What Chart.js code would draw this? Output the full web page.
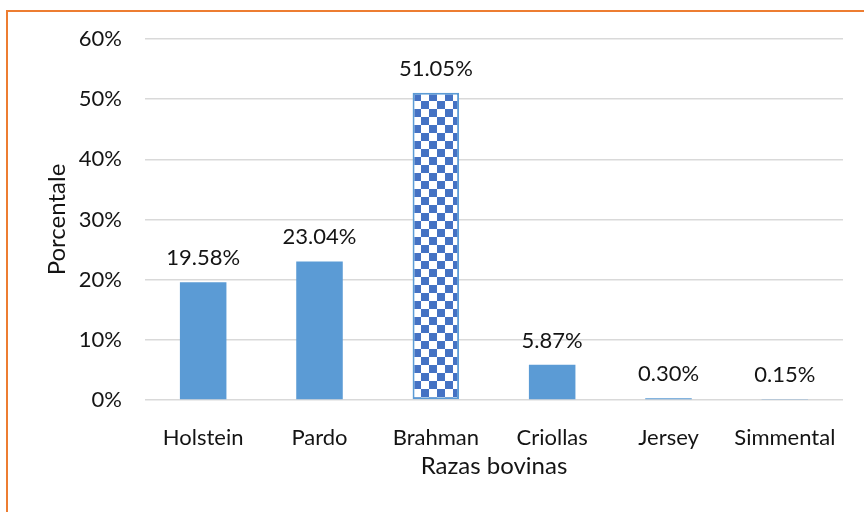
<!DOCTYPE html>
<html>
<head>
<meta charset="utf-8">
<script src="https://cdn.jsdelivr.net/npm/chart.js@4/dist/chart.umd.min.js"></script>
<style>
body { margin: 0; background: #fff; }
#wrap { position: relative; width: 864px; height: 512px; overflow: hidden; background: #fff; }
#frame { position: absolute; left: 6px; top: 10px; width: 900px; height: 600px; border: 2px solid #ED7D31; box-sizing: border-box; pointer-events: none; }
#chart { position: absolute; left: 0; top: 0; }
</style>
</head>
<body>
<div id="wrap">
  <canvas id="chart" width="864" height="512"></canvas>
  <div id="frame"></div>
</div>
<script>
// data
var razas = ["Holstein", "Pardo", "Brahman", "Criollas", "Jersey", "Simmental"];
var porcentajes = [19.58, 23.04, 51.05, 5.87, 0.30, 0.15];
var yTicks = [0, 10, 20, 30, 40, 50, 60];

var ctx = document.getElementById("chart").getContext("2d");

// checkered fill for the Brahman bar
function makeChecker() {
	var c = document.createElement("canvas");
	c.width = 16; c.height = 16;
	var g = c.getContext("2d");
	g.fillStyle = "#ffffff";
	g.fillRect(0, 0, 16, 16);
	g.fillStyle = "#4472C4";
	g.fillRect(0, 0, 8, 8);
	g.fillRect(8, 8, 8, 8);
	return ctx.createPattern(c, "repeat");
}
var checker = makeChecker();

var fills = razas.map(function (r) { return r === "Brahman" ? checker : "#5B9BD5"; });
var borders = razas.map(function (r) { return r === "Brahman" ? 2 : 0; });

var fontName = "Lato, 'Noto Sans', sans-serif";
var textColor = "#141414";

var patternAlign = {
	id: "patternAlign",
	beforeDatasetsDraw: function (chart) {
		var el = chart.getDatasetMeta(0).data[razas.indexOf("Brahman")];
		if (el && checker.setTransform) {
			checker.setTransform(new DOMMatrix([1, 0, 0, 1, Math.round(el.x - el.width / 2), Math.round(el.y)]));
		}
	}
};

var valueLabels = {
	id: "valueLabels",
	afterDatasetsDraw: function (chart) {
		var c = chart.ctx;
		c.save();
		c.font = "22px " + fontName;
		c.fillStyle = textColor;
		c.textAlign = "center";
		c.textBaseline = "alphabetic";
		chart.getDatasetMeta(0).data.forEach(function (el, i) {
			c.fillText(porcentajes[i].toFixed(2) + "%", el.x, el.y - 17);
		});
		c.restore();
	}
};

new Chart(ctx, {
	type: "bar",
	data: {
		labels: razas,
		datasets: [{
			data: porcentajes,
			backgroundColor: fills,
			borderColor: "#5B9BD5",
			borderWidth: borders,
			borderSkipped: false,
			categoryPercentage: 0.8,
			barPercentage: 0.5
		}]
	},
	options: {
		responsive: false,
		animation: false,
		events: [],
		layout: { padding: { left: 0, top: 39, right: 21, bottom: 22 } },
		plugins: {
			legend: { display: false },
			tooltip: { enabled: false }
		},
		scales: {
			x: {
				grid: { display: false },
				border: { display: false },
				ticks: { color: textColor, font: { family: fontName, size: 22 }, padding: 17, maxRotation: 0 },
				title: { display: true, text: "Razas bovinas", color: textColor, font: { family: fontName, size: 24 }, padding: { top: 0, bottom: 9 } },
				afterFit: function (s) { s.height = 90; }
			},
			y: {
				min: 0,
				max: 60,
				afterBuildTicks: function (s) { s.ticks = yTicks.map(function (v) { return { value: v }; }); },
				grid: { color: "#D9D9D9", lineWidth: 1.5, drawTicks: false },
				border: { display: false },
				ticks: { color: textColor, font: { family: fontName, size: 22 }, padding: 23, callback: function (v) { return v + "%"; } },
				title: { display: true, text: "Porcentale", color: textColor, font: { family: fontName, size: 24 }, padding: { top: 43, bottom: 0 } },
				afterFit: function (s) { s.width = 145; }
			}
		}
	},
	plugins: [patternAlign, valueLabels]
});
</script>
</body>
</html>
